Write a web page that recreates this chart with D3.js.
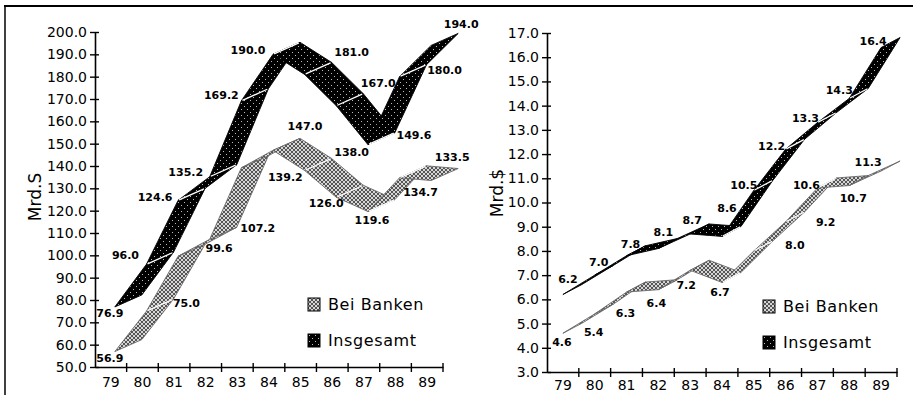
<!DOCTYPE html>
<html>
<head>
<meta charset="utf-8">
<script src="https://cdn.jsdelivr.net/npm/d3@7/dist/d3.min.js"></script>
<style>
  body { margin: 0; background: #fff; }
  svg text { font-family: "DejaVu Sans", sans-serif; fill: #000; }
</style>
</head>
<body>
<svg id="chart" width="913" height="403"></svg>
<script>
// Jahre (Kategorien)
var jahre = ["79", "80", "81", "82", "83", "84", "85", "86", "87", "88", "89"];

// linke Grafik, Mrd. S
var schillingInsgesamt = [76.9, 96.0, 124.6, 135.2, 169.2, 190.0, 181.0, 167.0, 149.6, 180.0, 194.0];
var schillingBanken    = [56.9, 75.0, 99.6, 107.2, 139.2, 147.0, 138.0, 126.0, 119.6, 134.7, 133.5];
var schillingTicks     = [50, 60, 70, 80, 90, 100, 110, 120, 130, 140, 150, 160, 170, 180, 190, 200];

// rechte Grafik, Mrd. $
var dollarInsgesamt = [6.2, 7.0, 7.8, 8.1, 8.7, 8.6, 10.5, 12.2, 13.3, 14.3, 16.4];
var dollarBanken    = [4.6, 5.4, 6.3, 6.4, 7.2, 6.7, 8.0, 9.2, 10.6, 10.7, 11.3];
var dollarTicks     = [3, 4, 5, 6, 7, 8, 9, 10, 11, 12, 13, 14, 15, 16, 17];

var legende = ["Bei Banken", "Insgesamt"];

// Lage der Beschriftungen (Abstand zum Punkt, nur Optik)
var offSchGes = [[-5,6],[-21,-9],[-23,-3],[-24,-5],[-20,-6],[-25,-4],[47,-22],[42,-23],[46,-10],[45,-7],[30,-21]];
var offSchBank = [[-5,6],[40,-8],[41,-8],[48,-11],[44,9],[32,-24],[47,-18],[-10,6],[4,8],[21,14],[21,-23]];
var offDolGes = [[5,-15],[4,-13],[4,-12],[5,-16],[2,-14],[5,-28],[-10,-5],[-14,-3],[-12,-5],[-10,-8],[-8,-6]];
var offDolBank = [[-1,9],[-1,18],[-1,21],[-2,13],[-4,15],[-2,10],[41,-6],[40,0],[-11,-3],[4,12],[-13,-9]];

var svg = d3.select("#chart");

// Muster
var defs = svg.append("defs");
var pSchwarz = defs.append("pattern").attr("id", "schwarz")
    .attr("patternUnits", "userSpaceOnUse").attr("width", 6).attr("height", 6);
pSchwarz.append("rect").attr("width", 6).attr("height", 6).attr("fill", "#000");
pSchwarz.append("rect").attr("x", 1).attr("y", 1).attr("width", 1).attr("height", 1).attr("fill", "#bbb");
pSchwarz.append("rect").attr("x", 4).attr("y", 4).attr("width", 1).attr("height", 1).attr("fill", "#bbb");

var pGrau = defs.append("pattern").attr("id", "grau")
    .attr("patternUnits", "userSpaceOnUse").attr("width", 4).attr("height", 4);
pGrau.append("rect").attr("width", 4).attr("height", 4).attr("fill", "#d6d6d6");
[[0,0],[1,1],[2,2],[3,3],[3,0],[2,1],[1,2],[0,3]].forEach(function(p){
  pGrau.append("rect").attr("x", p[0]).attr("y", p[1]).attr("width", 1).attr("height", 1).attr("fill", "#555");
});

// Rahmen
svg.append("line").attr("x1", 4).attr("x2", 913).attr("y1", 6).attr("y2", 6)
  .attr("stroke", "#000").attr("stroke-width", 2);
svg.append("line").attr("x1", 5).attr("x2", 5).attr("y1", 6).attr("y2", 395)
  .attr("stroke", "#000").attr("stroke-width", 1.5);

function band(g, werte, x, y, shift, tiefe, fill, rand) {
  var pts = werte.map(function(v, i){
    return [x(jahre[i]) + x.bandwidth() / 2 + shift, y(v)];
  });
  var breite = [];
  for (var i = 0; i < pts.length - 1; i++) {
    var a = pts[i], b = pts[i + 1];
    var poly = [a, b, [b[0] + tiefe[0], b[1] + tiefe[1]], [a[0] + tiefe[0], a[1] + tiefe[1]]];
    g.append("path")
      .attr("d", "M" + poly.join("L") + "Z")
      .attr("fill", fill)
      .attr("stroke", rand)
      .attr("stroke-width", 0.9)
      .attr("stroke-linejoin", "round");
    var sx = b[0] - a[0], sy = b[1] - a[1];
    breite.push(Math.abs(sx * tiefe[1] - sy * tiefe[0]) / Math.sqrt(sx * sx + sy * sy));
  }
  // weisse Fugen an den Knicken
  for (var j = 1; j < pts.length - 1; j++) {
    if (Math.min(breite[j - 1], breite[j]) > 3) {
      var p = pts[j];
      g.append("line")
        .attr("x1", p[0] + tiefe[0] * 0.04).attr("y1", p[1] + tiefe[1] * 0.04)
        .attr("x2", p[0] + tiefe[0] * 0.96).attr("y2", p[1] + tiefe[1] * 0.96)
        .attr("stroke", "#fff").attr("stroke-width", 1.3);
    }
  }
  return pts;
}

function werteText(g, pts, werte, offs) {
  g.selectAll(null).data(werte).enter().append("text")
    .attr("x", function(d, i){ return pts[i][0] + offs[i][0]; })
    .attr("y", function(d, i){ return pts[i][1] + offs[i][1]; })
    .attr("dy", "0.36em")
    .attr("text-anchor", "middle")
    .attr("font-size", "11px")
    .attr("font-weight", "bold")
    .text(function(d){ return d3.format(".1f")(d); });
}

function grafik(c) {
  var x = d3.scaleBand().domain(jahre).range([c.left, c.right]);
  var y = d3.scaleLinear().domain([c.ticks[0], c.ticks[c.ticks.length - 1]]).range([c.bottom, c.top]);
  var g = svg.append("g");

  // y-Achse
  var ya = g.append("g").attr("transform", "translate(" + c.left + ",0)")
    .call(d3.axisLeft(y).tickValues(c.ticks).tickFormat(d3.format(".1f")).tickSize(5).tickPadding(3).tickSizeOuter(0));
  ya.select(".domain").attr("stroke-width", 1.6);
  ya.selectAll(".tick line").attr("x1", 4).attr("x2", -5).attr("stroke-width", 1.4);
  ya.selectAll(".tick text").attr("font-size", "14px").attr("font-family", "DejaVu Sans");

  // x-Achse
  var xa = g.append("g").attr("transform", "translate(0," + c.bottom + ")")
    .call(d3.axisBottom(x).tickSize(0).tickPadding(c.xPad).tickSizeOuter(0));
  xa.select(".domain").attr("stroke-width", 1.6);
  xa.selectAll(".tick text").attr("font-size", "14px").attr("font-family", "DejaVu Sans");
  xa.selectAll(null).data(jahre).enter().append("line")
    .attr("x1", function(d){ return x(d) + x.step(); })
    .attr("x2", function(d){ return x(d) + x.step(); })
    .attr("y1", -4).attr("y2", 5)
    .attr("stroke", "#000").attr("stroke-width", 1.4);

  // Achsentitel
  g.append("text")
    .attr("transform", "translate(" + c.titleX + "," + c.titleY + ") rotate(-90)")
    .attr("text-anchor", "middle").attr("dy", "0.35em")
    .attr("font-size", "17px")
    .text(c.title);

  // Baender
  var pb = band(g, c.banken, x, y, c.shift, c.tiefe, "url(#grau)", "#6a6a6a");
  var pi = band(g, c.gesamt, x, y, c.shift, c.tiefe, "url(#schwarz)", "#000");
  werteText(g, pb, c.banken, c.offBank);
  werteText(g, pi, c.gesamt, c.offGes);

  // Legende
  var lg = g.append("g").attr("transform", "translate(" + c.legX + "," + c.legY + ")");
  lg.selectAll("rect").data(legende).enter().append("rect")
    .attr("x", 0).attr("y", function(d, i){ return i * 36 - 6; })
    .attr("width", 12).attr("height", 13)
    .attr("fill", function(d, i){ return i === 0 ? "url(#grau)" : "url(#schwarz)"; })
    .attr("stroke", "#000").attr("stroke-width", 1);
  lg.selectAll("text").data(legende).enter().append("text")
    .attr("x", 20).attr("y", function(d, i){ return i * 36; })
    .attr("dy", "0.35em")
    .attr("font-size", "16px")
    .attr("letter-spacing", "0.6px")
    .text(function(d){ return d; });
}

grafik({
  left: 95, right: 443, top: 32, bottom: 367, xPad: 10,
  ticks: schillingTicks, title: "Mrd.S", titleX: 35, titleY: 197,
  shift: 4, tiefe: [27, -12],
  gesamt: schillingInsgesamt, banken: schillingBanken,
  offGes: offSchGes, offBank: offSchBank,
  legX: 308, legY: 304
});

grafik({
  left: 547, right: 897, top: 33, bottom: 372, xPad: 8,
  ticks: dollarTicks, title: "Mrd.$", titleX: 497, titleY: 193,
  shift: 0, tiefe: [19, -10],
  gesamt: dollarInsgesamt, banken: dollarBanken,
  offGes: offDolGes, offBank: offDolBank,
  legX: 763, legY: 306
});
</script>
</body>
</html>
